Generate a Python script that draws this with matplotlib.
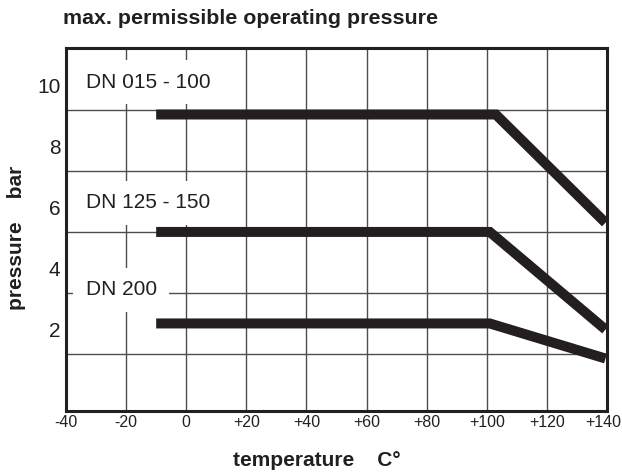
import matplotlib
matplotlib.use("Agg")
import matplotlib.pyplot as plt
import matplotlib.transforms as mtransforms

# temperature (C) / pressure (bar)
temp_015 = [-10, 103, 139.5]
bar_015 = [8.85, 8.85, 5.3]
temp_125 = [-10, 101, 139.5]
bar_125 = [5.0, 5.0, 1.8]
temp_200 = [-10, 101, 139.5]
bar_200 = [2.0, 2.0, 0.85]

labels = ["DN 015 - 100", "DN 125 - 150", "DN 200"]
label_y = [9.9, 5.95, 3.1]

x_ticks = [-40, -20, 0, 20, 40, 60, 80, 100, 120, 140]
x_ticklabels = ["-40", "-20", "0", "+20", "+40", "+60", "+80", "+100", "+120", "+140"]
y_ticks = [2, 4, 6, 8, 10]
y_grid = [1, 3, 5, 7, 9]

ink = "#231f20"
grid_col = "#4d4d4d"

plt.rcParams['font.family'] = ['Liberation Sans', 'DejaVu Sans']

fig = plt.figure(figsize=(6.22, 4.72), dpi=100)
ax = fig.add_axes([66 / 622, 61 / 472, 541 / 622, 363 / 472])
ax.set_xlim(-40, 140)
ax.set_ylim(-0.87, 11.03)

# grid
for gx in x_ticks[1:-1]:
    ax.axvline(gx, color=grid_col, lw=1.0, zorder=1)
for gy in y_grid:
    ax.axhline(gy, color=grid_col, lw=1.0, zorder=1)

# curves
for t, p in [(temp_015, bar_015), (temp_125, bar_125), (temp_200, bar_200)]:
    ax.plot(t, p, color=ink, lw=7.2, solid_capstyle='butt',
            solid_joinstyle='miter', zorder=3)

for lab, ly in zip(labels, label_y):
    ax.text(-33.5, ly, lab, fontsize=15, color=ink, va='center', ha='left',
            bbox=dict(boxstyle='square,pad=0.6', fc='white', ec='none'), zorder=2)

ax.set_xticks(x_ticks)
ax.set_xticklabels(x_ticklabels, fontsize=11.5, color=ink)
ax.set_yticks(y_ticks)
ax.set_yticklabels([str(v) for v in y_ticks], fontsize=15, color=ink)
ax.tick_params(length=0, pad=4)
ax.tick_params(axis='x', pad=3)

offset = mtransforms.ScaledTranslation(0, -6 / 100, fig.dpi_scale_trans)
for lbl in ax.get_yticklabels():
    lbl.set_transform(lbl.get_transform() + offset)

# keep the last x label inside the canvas
last = ax.get_xticklabels()[-1]
last.set_transform(last.get_transform() +
                   mtransforms.ScaledTranslation(-4 / 100, 0, fig.dpi_scale_trans))

for s in ax.spines.values():
    s.set_linewidth(2.2)
    s.set_color(ink)
    s.set_zorder(4)

fig.text(63 / 622, 1 - 18 / 472, "max. permissible operating pressure",
         fontsize=15.4, fontweight='bold', color=ink, ha='left', va='center')
fig.text(317 / 622, 1 - 460 / 472, "temperature    C°",
         fontsize=15, fontweight='bold', color=ink, ha='center', va='center')
fig.text(17 / 622, 1 - 238 / 472, "pressure    bar", rotation=90,
         fontsize=15, fontweight='bold', color=ink, ha='center', va='center')

fig.savefig("out.png", dpi=100)
